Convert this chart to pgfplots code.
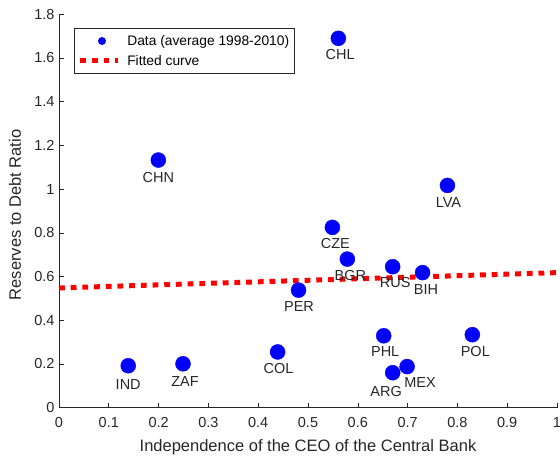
\documentclass[border=0pt]{standalone}
\usepackage{pgfplots}
\pgfplotsset{compat=1.18}
\usepackage{pgfplotstable}
\usepackage{fontspec}
\setmainfont{Liberation Sans}
\definecolor{txt}{RGB}{38,38,38}
\definecolor{mblue}{RGB}{0,0,255}
\definecolor{mred}{RGB}{255,0,0}
\pgfplotstableread{
x y
0.1995 1.133
0.561 1.690
0.780 1.017
0.139 0.192
0.249 0.201
0.439 0.255
0.481 0.538
0.549 0.825
0.579 0.680
0.670 0.645
0.730 0.618
0.652 0.329
0.830 0.334
0.670 0.160
0.699 0.188
}\pts
\pgfplotstableread{
lx ly name
0.1995 1.052 CHN
0.5646 1.617 CHL
0.782 0.940 LVA
0.139 0.104 IND
0.253 0.119 ZAF
0.441 0.180 COL
0.482 0.462 PER
0.555 0.749 CZE
0.585 0.607 BGR
0.675 0.575 RUS
0.737 0.543 BIH
0.655 0.255 PHL
0.836 0.256 POL
0.657 0.073 ARG
0.725 0.113 MEX
}\labs
\begin{document}
\begin{tikzpicture}
\useasboundingbox (-59pt,-54.3pt) rectangle (501pt,407.7pt);
\begin{axis}[
  scale only axis, width=498pt, height=393.4pt,
  xmin=0, xmax=1, ymin=0, ymax=1.8,
  clip=false,
  axis x line*=bottom, axis y line*=left,
  axis line style={txt, line width=0.6pt, -},
  tick align=inside, major tick length=5pt,
  tick style={txt, line width=0.6pt},
  xtick={0,0.1,0.2,0.3,0.4,0.5,0.6,0.7,0.8,0.9,1},
  xticklabels={0,0.1,0.2,0.3,0.4,0.5,0.6,0.7,0.8,0.9,1},
  ytick={0,0.2,0.4,0.6,0.8,1,1.2,1.4,1.6,1.8},
  yticklabels={0,0.2,0.4,0.6,0.8,1,1.2,1.4,1.6,1.8},
  /pgf/number format/assume math mode=true,
  ticklabel style={font=\fontsize{14.5}{17}\selectfont, text=txt},
  xticklabel style={yshift=-6pt},
  yticklabel style={xshift=-1pt},
  xlabel={Independence of the CEO of the Central Bank},
  ylabel={Reserves to Debt Ratio},
  label style={font=\fontsize{16.5}{19}\selectfont, text=txt},
  xlabel style={at={(axis description cs:0.5,-0.1017)}, anchor=center},
  ylabel style={at={(axis description cs:-0.0884,0.49)}, anchor=center},
  legend style={at={(axis description cs:0.0301,0.9644)}, anchor=north west,
    draw=txt, line width=0.6pt, font=\fontsize{13.8}{16}\selectfont, text=black,
    nodes={inner xsep=2pt, inner ysep=4.15pt}, inner xsep=3.5pt, inner ysep=2.5pt},
  legend cell align=left,
]
\addplot[only marks, mark=*, mark size=7.5pt, mark options={draw=mblue, fill=mblue},
  legend image code/.code={\path[draw=none, fill=none] (0pt,0) -- (45pt,0); \fill[mblue, draw=none] (21.7pt,0) circle (4pt);}]
  table[x=x, y=y] {\pts};
\addlegendentry{Data (average 1998-2010)}
\addplot[mred, line width=5pt, dash pattern=on 5.8pt off 5.9pt,
  legend image code/.code={\path[draw=none, fill=none] (0pt,0) -- (45pt,0); \draw[mred, line width=5pt, dash pattern=on 5.8pt off 5.9pt] (0pt,0) -- (38pt,0);}]
  coordinates {(0,0.548) (1,0.618)};
\addlegendentry{Fitted curve}
\addplot[draw=none, mark=none, forget plot, nodes near coords,
  point meta=explicit symbolic, nodes near coords align=center,
  every node near coord/.append style={font=\fontsize{14.5}{17}\selectfont, text=txt, inner sep=0pt}]
  table[x=lx, y=ly, meta=name] {\labs};
\end{axis}
\end{tikzpicture}
\end{document}
